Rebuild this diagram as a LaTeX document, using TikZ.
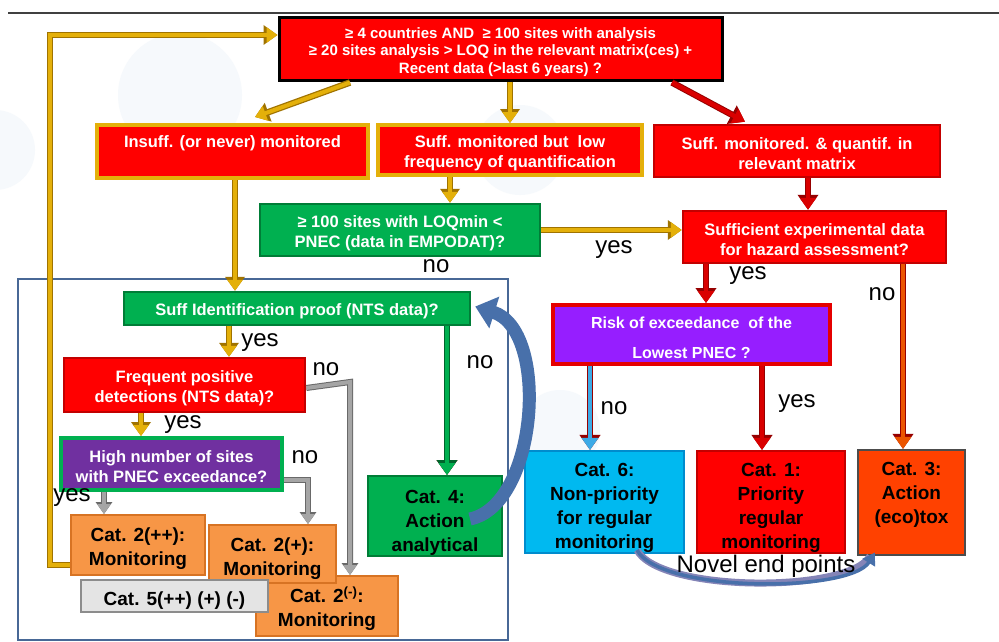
\documentclass[tikz,border=0pt]{standalone}
\usepackage{fontspec}
\setmainfont{Liberation Sans}
\usetikzlibrary{arrows.meta,calc}
\definecolor{goldc}{RGB}{228,176,10}
\definecolor{goldd}{RGB}{160,115,0}
\definecolor{redc}{RGB}{255,0,0}
\definecolor{redd}{RGB}{195,0,0}
\definecolor{redarr}{RGB}{150,0,0}
\definecolor{greenc}{RGB}{0,176,80}
\definecolor{greend}{RGB}{0,125,55}
\definecolor{purplec}{RGB}{112,48,160}
\definecolor{violetc}{RGB}{150,30,255}
\definecolor{orangec}{RGB}{247,150,70}
\definecolor{oranged}{RGB}{215,115,35}
\definecolor{cyanc}{RGB}{0,185,240}
\definecolor{cyand}{RGB}{0,140,205}
\definecolor{cat3c}{RGB}{255,65,0}
\definecolor{grayc}{RGB}{165,165,165}
\definecolor{grayd}{RGB}{105,105,105}
\definecolor{lgray}{RGB}{228,228,228}
\definecolor{framec}{RGB}{72,104,150}
\definecolor{bluearr}{RGB}{72,112,170}
\definecolor{lbluearr}{RGB}{60,170,230}
\definecolor{orarr}{RGB}{235,85,0}
\definecolor{bgc}{RGB}{246,249,252}
\newcommand\qdn{\rule{0pt}{18pt}}
\newcommand\cdn{\rule{0pt}{26pt}}
\tikzset{
  qbox/.style={rectangle, inner sep=0pt, align=center, text=white,
    font=\fontsize{16.5}{20}\selectfont\bfseries, line width=2.5pt},
  catbox/.style={rectangle, inner sep=0pt, align=center, text=black,
    font=\fontsize{19}{24}\selectfont\bfseries, line width=2pt},
  lab/.style={inner sep=0pt, font=\fontsize{24}{24}\selectfont},
  garrow/.style={draw=goldc, line width=4pt, -{Triangle[width=15pt,length=11pt]},
    preaction={draw=goldd, line width=6.5pt, -{Triangle[width=19pt,length=14pt]}}},
  rarrow/.style={draw=redc!85!black, line width=4pt, -{Triangle[width=16pt,length=12pt]},
    preaction={draw=redarr, line width=6.5pt, -{Triangle[width=20pt,length=15pt]}}},
  grarrow/.style={draw=grayc, line width=4pt, -{Triangle[width=13pt,length=10pt]},
    preaction={draw=grayd, line width=6pt, -{Triangle[width=16pt,length=12pt]}}},
}
\begin{document}
\begin{tikzpicture}[x=1pt,y=-1pt]
\useasboundingbox[fill=white] (0,0) rectangle (999,642);
% faint background watermark
\fill[bgc] (180,95) circle (62);
\fill[bgc] (-5,150) circle (40);
\fill[bgc] (520,150) circle (45);
\fill[bgc] (560,430) circle (40);
% top line
\draw[line width=2.5pt, black!75] (8,13) -- (999,13);
% frame
\draw[framec, line width=2pt] (18,279) rectangle (508,640);

% top box
\node[qbox, draw=black, line width=3pt, fill=redc, minimum width=443pt, minimum height=63pt,
  font=\fontsize{15}{17.5}\selectfont\bfseries] (top) at (500.5,49.5)
  {\rule{0pt}{16pt}≥ 4 countries AND \ ≥ 100 sites with analysis\\ ≥ 20 sites analysis > LOQ in the relevant matrix(ces) +\\ Recent data (>last 6 years) ?};

\node[qbox, draw=goldc, line width=4pt, fill=redc, minimum width=271pt, minimum height=53pt] (insuff) at (232.5,151.5)
  {\qdn Insuff. (or never) monitored\\\strut};
\node[qbox, draw=goldc, line width=4pt, fill=redc, minimum width=264pt, minimum height=50pt] (sufflow) at (510,150)
  {\qdn Suff. monitored but \ low\\frequency of quantification};
\node[qbox, draw=redd, fill=redc, minimum width=286pt, minimum height=52pt] (suffq) at (797,151)
  {\qdn Suff. monitored. \& quantif. in\\relevant matrix};
\node[qbox, draw=greend, fill=greenc, minimum width=280pt, minimum height=52pt] (loq) at (400,230)
  {\qdn ≥ 100 sites with LOQmin <\\PNEC (data in EMPODAT)?};
\node[qbox, draw=redd, fill=redc, minimum width=263pt, minimum height=52pt] (suffexp) at (814.5,237)
  {\qdn Sufficient experimental data\\for hazard assessment?};
\node[qbox, draw=redc!90!black, line width=4pt, fill=violetc, minimum width=277pt, minimum height=59pt,
  font=\fontsize{16}{30}\selectfont\bfseries] (risk) at (691.5,334.5)
  {\qdn Risk of exceedance \ of the\\Lowest PNEC ?};
\node[catbox, draw=cyand, fill=cyanc, minimum width=159pt, minimum height=102pt] (cat6) at (604.5,502)
  {\cdn Cat. 6:\\Non-priority\\for regular\\monitoring};
\node[catbox, draw=redd, fill=redc, minimum width=148pt, minimum height=102pt] (cat1) at (771,502)
  {\cdn Cat. 1:\\Priority\\regular\\monitoring};
\node[catbox, draw=black!70, fill=cat3c, minimum width=107pt, minimum height=101pt] (cat3) at (911.5,502.5)
  {\cdn Cat. 3:\\Action\\(eco)tox\\\strut};

\node[qbox, draw=greend, fill=greenc, minimum width=346pt, minimum height=33pt] (suffid) at (297,308.5)
  {\qdn Suff Identification proof (NTS data)?};
\node[qbox, draw=redd, fill=redc, minimum width=241pt, minimum height=54pt] (freq) at (184.5,385)
  {\qdn Frequent positive\\detections (NTS data)?};
\node[qbox, draw=greenc, line width=4pt, fill=purplec, minimum width=221pt, minimum height=52pt] (high) at (171.5,464)
  {\qdn High number of sites\\with PNEC exceedance?};
\node[catbox, draw=oranged, fill=orangec, minimum width=142pt, minimum height=60pt] (cat2m) at (327,606)
  {\rule{0pt}{22pt}Cat. 2\textsuperscript{(-)}:\\Monitoring};
\node[catbox, draw=oranged, fill=orangec, minimum width=134pt, minimum height=60pt] (cat2pp) at (138,545)
  {\rule{0pt}{21pt}Cat. 2(++):\\Monitoring};
\node[catbox, draw=oranged, fill=orangec, minimum width=127pt, minimum height=58pt] (cat2p) at (272.5,554)
  {\rule{0pt}{24pt}Cat. 2(+):\\Monitoring};
\node[catbox, draw=black!45, fill=lgray, minimum width=187pt, minimum height=32pt] (cat5) at (174.5,596)
  {\rule{0pt}{22pt}Cat. 5(++) (+) (-)};
\node[catbox, draw=greend, fill=greenc, minimum width=134pt, minimum height=80pt] (cat4) at (435,516)
  {\cdn Cat. 4:\\Action\\analytical};

% connectors
\draw[garrow] ([xshift=-150.5pt]top.south) -- ([shift={(22.5,-6)}]insuff.north);
\draw[garrow] (top.south -| sufflow.north) -- (sufflow.north);
\draw[rarrow, line width=4.5pt] ([xshift=171.5pt]top.south) -- ([shift={(-52,-2)}]suffq.north);
\draw[garrow] ([xshift=-60pt]sufflow.south) -- ([xshift=50pt]loq.north);
\draw[garrow] (loq.east) -- (loq.east -| suffexp.west);
\draw[rarrow] ([xshift=11pt]suffq.south) -- ([xshift=-6.5pt]suffexp.north);
\draw[rarrow] ([xshift=-108.5pt]suffexp.south) -- ([xshift=14.5pt]risk.north);
\draw[rarrow, draw=orarr] ([xshift=88.5pt]suffexp.south) -- ([xshift=-8.5pt]cat3.north);
\draw[rarrow, draw=lbluearr] ([xshift=-101.5pt]risk.south) -- ([xshift=-14.5pt]cat6.north);
\draw[rarrow] ([xshift=70.5pt]risk.south) -- ([xshift=-9pt]cat1.north);

\draw[garrow] ([xshift=2.5pt]insuff.south) -- ([xshift=-62pt]suffid.north);
\draw[garrow] ([xshift=-68pt]suffid.south) -- ([xshift=44.5pt]freq.north);
\draw[rarrow, draw=greenc, preaction={draw=greend!80!black, line width=6.5pt, -{Triangle[width=20pt,length=15pt]}}]
  ([xshift=150pt]suffid.south) -- ([xshift=12pt]cat4.north);
\draw[garrow] ([xshift=-43.5pt]freq.south) -- ([xshift=-30.5pt]high.north);
\coordinate (fr1) at (350,382);
\draw[grarrow] ([yshift=-3pt]freq.east) -- (fr1) -- (fr1 |- cat2m.north);
\coordinate (hi1) at (308,480);
\draw[grarrow] ([yshift=-16pt]high.east) -- (hi1) -- (hi1 |- cat2p.north);
\draw[grarrow] ([xshift=-67.5pt]high.south) -- ([xshift=-34pt]cat2pp.north);

\coordinate (lp1) at (50,565);
\coordinate (lp2) at (50,35);
\draw[garrow] ([shift={(0,20)}]cat2pp.west) -- (lp1) -- (lp2) -- (lp2 -| top.west);

% blue curved arrow
\draw[bluearr, line width=13pt, -{Triangle[width=32pt,length=20pt]}]
  ([shift={(35,3)}]cat4.center) .. controls (538,505) and (550,330) .. ([shift={(4,-2)}]suffid.east);

% novel end points
\draw[grayc!80!blue, line width=7pt] ([shift={(32.5,48)}]cat6.center) .. controls (660,593) and (850,593) .. (870,556);
\draw[bluearr, line width=3.5pt, -{Triangle[width=14pt,length=12pt]}] ([shift={(32.5,48)}]cat6.center) .. controls (660,593) and (850,593) .. ([shift={(-36.5,50)}]cat3.center);

% labels
\node[lab] (l1) at (436,266) {no};
\node[lab] (l2) at (614,250) {yes};
\node[lab] (l3) at (748,276) {yes};
\node[lab] (l4) at (882,294) {no};
\node[lab] (l5) at (614,408) {no};
\node[lab] (l6) at (797,404) {yes};
\node[lab] (l7) at (260,343) {yes};
\node[lab] (l8) at (480,362) {no};
\node[lab] (l9) at (326,369) {no};
\node[lab] (l10) at (183,425) {yes};
\node[lab] (l11) at (305,457) {no};
\node[lab] (l12) at (72,498) {yes};
\node[lab] (l13) at (766,566) {Novel end points};
\end{tikzpicture}
\end{document}
